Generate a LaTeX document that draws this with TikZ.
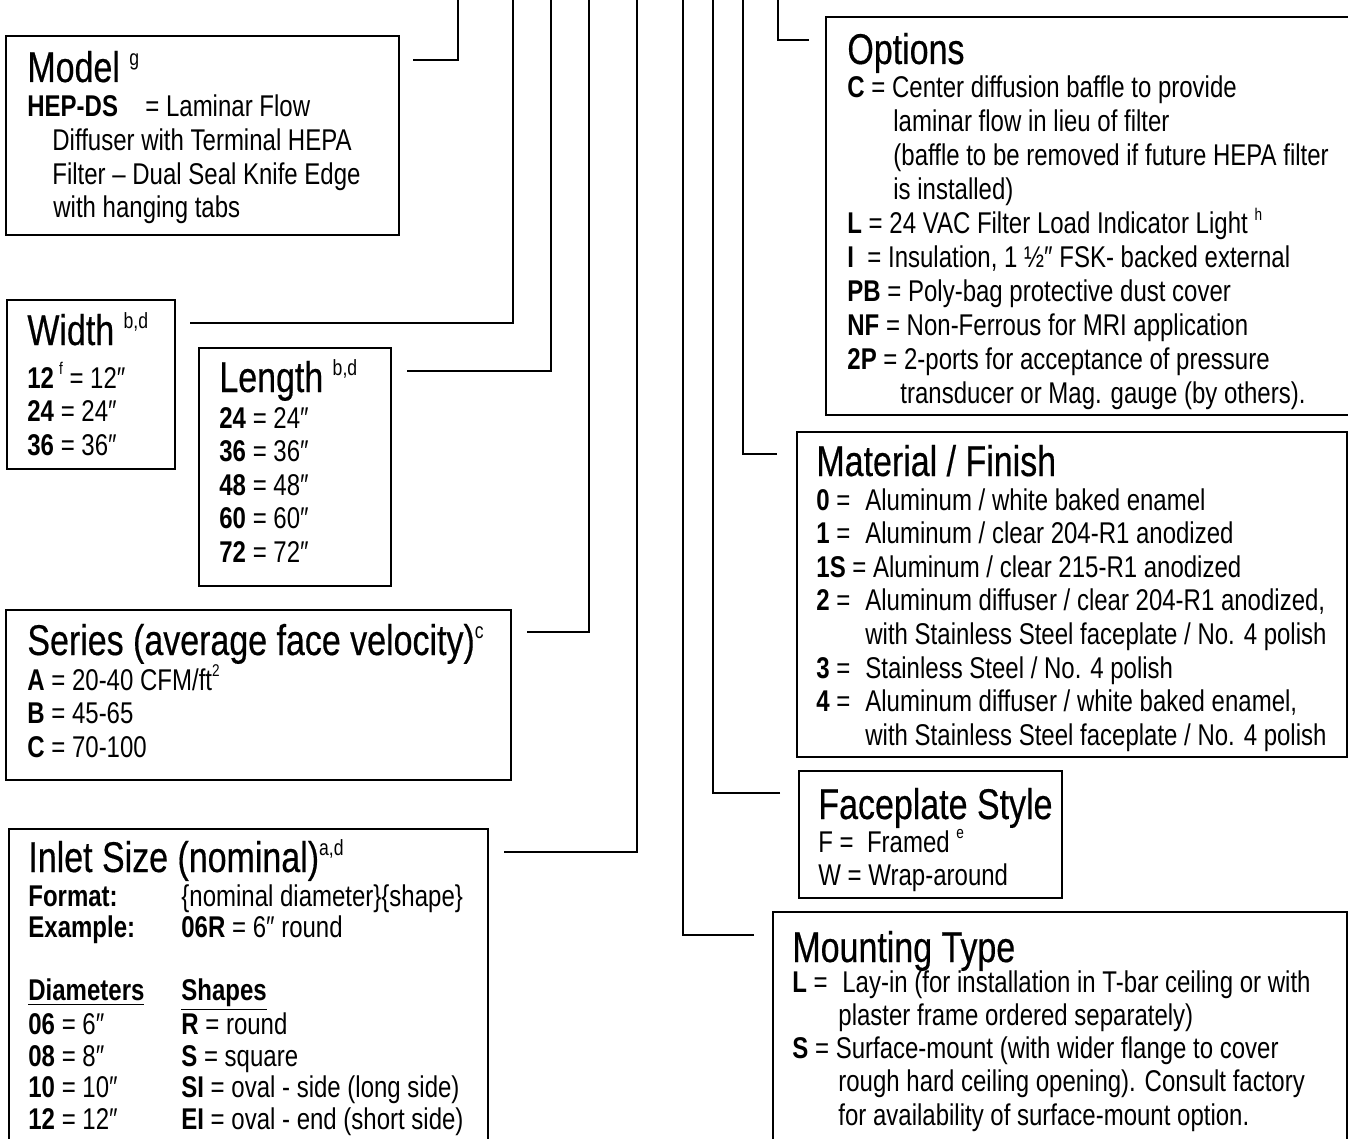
\documentclass[tikz,border=0pt]{standalone}
\usepackage{fontspec}
\setmainfont{Liberation Sans}[FakeStretch=0.8]
\newfontfamily\ttlfont{Liberation Sans}[FakeStretch=0.79,FakeBold=0.4]
\newcommand\fnote[1]{\raisebox{0.45em}{\fontsize{8.5pt}{9pt}\selectfont #1}}
\newcommand\tnote[1]{\raisebox{0.38em}{\normalfont\fontsize{11pt}{11pt}\selectfont #1}}
\newcommand\code[2]{\makebox[#1][l]{\textbf{#2} =}}

\begin{document}
\begin{tikzpicture}[x=0.5pt,y=-0.5pt,
  box/.style={draw,line width=1.15pt,rectangle,inner sep=0pt,anchor=north west},
  ttl/.style={anchor=base west,inner sep=0pt,font=\ttlfont\fontsize{21.5pt}{24pt}\selectfont},
  txt/.style={anchor=base west,inner sep=0pt,align=flush left,text width=320pt,
    font=\fontsize{15pt}{16.8pt}\selectfont},
  link/.style={line width=1.15pt}]
  \clip (0,0) rectangle (1348,1139);

  % boxes
  \node[box,minimum width=196.5pt,minimum height=99.5pt] (model) at (5,35) {};
  \node[box,minimum width=84pt,minimum height=84.5pt] (width) at (6,299) {};
  \node[box,minimum width=96pt,minimum height=119pt] (length) at (198,347) {};
  \node[box,minimum width=252.5pt,minimum height=85pt] (series) at (5,609) {};
  \node[box,minimum width=239.5pt,minimum height=170pt] (inlet) at (8,828) {};
  \node[box,minimum width=270pt,minimum height=199pt] (options) at (825,16) {};
  \node[box,minimum width=275pt,minimum height=162.5pt] (material) at (796,431) {};
  \node[box,minimum width=131.5pt,minimum height=63.5pt] (face) at (798,770) {};
  \node[box,minimum width=287pt,minimum height=130pt] (mount) at (772,911) {};

  % connector ends
  \coordinate (modelEnd) at (413,60);     \coordinate (modelTop) at (458,-2);
  \coordinate (widthEnd) at (190,323);    \coordinate (widthTop) at (513,-2);
  \coordinate (lengthEnd) at (407,371);   \coordinate (lengthTop) at (551,-2);
  \coordinate (seriesEnd) at (527,632);   \coordinate (seriesTop) at (589,-2);
  \coordinate (inletEnd) at (504,852);    \coordinate (inletTop) at (637,-2);
  \coordinate (mountEnd) at (754,935);    \coordinate (mountTop) at (683,-2);
  \coordinate (faceEnd) at (780,793);     \coordinate (faceTop) at (713,-2);
  \coordinate (materialEnd) at (777,454); \coordinate (materialTop) at (743,-2);
  \coordinate (optionsEnd) at (809,40);   \coordinate (optionsTop) at (778,-2);

  \foreach \c in {model,width,length,series,inlet,mount,face,material,options}
    \draw[link] (\c End) -| (\c Top);

  % texts
  \node[ttl] (modelT) at (27,82) {Model \tnote{g}};
  \node[txt] (modelB) at (27,117) {\makebox[59pt][l]{\textbf{HEP-DS}}= Laminar Flow\\
    \hspace*{12.5pt}Diffuser with Terminal HEPA\\
    \hspace*{12.5pt}Filter – Dual Seal Knife Edge\\
    \hspace*{13pt}with hanging tabs};

  \node[ttl] (widthT) at (27,345) {Width \tnote{b,d}};
  \node[txt] (widthB) at (27,388) {\textbf{12}\,\fnote{f} = 12″\\
    \textbf{24} = 24″\\ \textbf{36} = 36″};

  \node[ttl] (lengthT) at (219,392) {Length \tnote{b,d}};
  \node[txt] (lengthB) at (219,428) {\textbf{24} = 24″\\ \textbf{36} = 36″\\
    \textbf{48} = 48″\\ \textbf{60} = 60″\\ \textbf{72} = 72″};

  \node[ttl] (seriesT) at (27,655) {Series (average face velocity)\tnote{c}};
  \node[txt] (seriesB) at (27,690) {\textbf{A} = 20-40 CFM/ft\fnote{2}\\
    \textbf{B} = 45-65\\ \textbf{C} = 70-100};

  \node[ttl] (inletT) at (28,872) {Inlet Size (nominal)\tnote{a,d}};
  \node[txt,font=\fontsize{15pt}{15.8pt}\selectfont] (inletB) at (28,906) {%
    \makebox[76.5pt][l]{\textbf{Format:}}\{nominal diameter\}\{shape\}\\
    \makebox[76.5pt][l]{\textbf{Example:}}\textbf{06R} = 6″ round\\ ~\\
    \makebox[76.5pt][l]{\textbf{\underline{Diameters}}}\textbf{\underline{Shapes}}\\
    \makebox[76.5pt][l]{\textbf{06} = 6″}\textbf{R} = round\\
    \makebox[76.5pt][l]{\textbf{08} = 8″}\textbf{S} = square\\
    \makebox[76.5pt][l]{\textbf{10} = 10″}\textbf{SI} = oval - side (long side)\\
    \makebox[76.5pt][l]{\textbf{12} = 12″}\textbf{EI} = oval - end (short side)\\
    \textbf{14} = 14″};

  \begin{scope}
    \clip (options.south west) rectangle (options.north east);
    \node[ttl] (optionsT) at (847,64) {Options};
    \node[txt,font=\fontsize{15pt}{16.95pt}\selectfont] (optionsB) at (847,98) {%
      \textbf{C} = Center diffusion baffle to provide\\
      \hspace*{23pt}laminar flow in lieu of filter\\
      \hspace*{23pt}(baffle to be removed if future HEPA filter\\
      \hspace*{23pt}is installed)\\
      \textbf{L} = 24 VAC Filter Load Indicator Light \fnote{h}\\
      \textbf{I}\ \ = Insulation, 1 ½″ FSK- backed external\\
      \textbf{PB} = Poly-bag protective dust cover\\
      \textbf{NF} = Non-Ferrous for MRI application\\
      \textbf{2P} = 2-ports for acceptance of pressure\\
      \hspace*{26.5pt}transducer or Mag. gauge (by others).};
  \end{scope}

  \begin{scope}
    \clip (material.south west) rectangle (material.north east);
    \node[ttl] (materialT) at (816,476) {Material / Finish};
    \node[txt] (materialB) at (816,510) {%
      \code{24.5pt}{0}Aluminum / white baked enamel\\
      \code{24.5pt}{1}Aluminum / clear 204-R1 anodized\\
      \textbf{1S} = Aluminum / clear 215-R1 anodized\\
      \code{24.5pt}{2}Aluminum diffuser / clear 204-R1 anodized,\\
      \hspace*{24.5pt}with Stainless Steel faceplate / No. 4 polish\\
      \code{24.5pt}{3}Stainless Steel / No. 4 polish\\
      \code{24.5pt}{4}Aluminum diffuser / white baked enamel,\\
      \hspace*{24.5pt}with Stainless Steel faceplate / No. 4 polish};
  \end{scope}

  \node[ttl] (faceT) at (818,819) {Faceplate Style};
  \node[txt] (faceB) at (818,852) {%
    F =\ \ Framed \fnote{e}\\
    W = Wrap-around};

  \node[ttl] (mountT) at (792,962) {Mounting Type};
  \node[txt,font=\fontsize{15pt}{16.65pt}\selectfont] (mountB) at (792,992) {%
    \code{25pt}{L}Lay-in (for installation in T-bar ceiling or with\\
    \hspace*{23pt}plaster frame ordered separately)\\
    \textbf{S} = Surface-mount (with wider flange to cover\\
    \hspace*{23pt}rough hard ceiling opening). Consult factory\\
    \hspace*{23pt}for availability of surface-mount option.};
\end{tikzpicture}
\end{document}
